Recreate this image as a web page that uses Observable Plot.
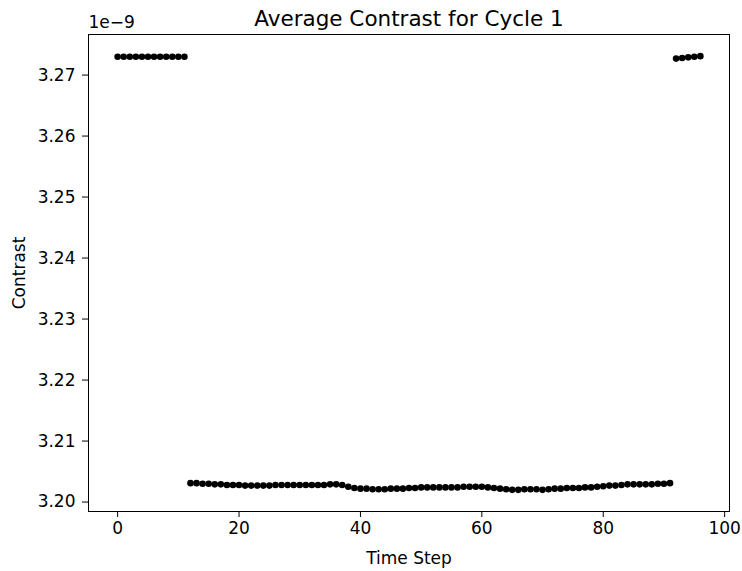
<!DOCTYPE html>
<html>
<head>
<meta charset="utf-8">
<script src="https://cdn.jsdelivr.net/npm/d3@7"></script>
<script src="https://cdn.jsdelivr.net/npm/@observablehq/plot@0.6"></script>
<style>
html,body{margin:0;padding:0;background:#fff;}
</style>
</head>
<body>
<div id="chart"></div>
<script>
const titleText = "Average Contrast for Cycle 1";
const xLabel = "Time Step";
const yLabel = "Contrast";
const exponentLabel = "1e\u22129";

const stepsStart = [0,1,2,3,4,5,6,7,8,9,10,11];
const valuesStart = [3.2730,3.2730,3.2730,3.2730,3.2730,3.2730,3.2730,3.2730,3.2730,3.2730,3.2730,3.2730];

const stepsMid = d3.range(12, 92);
const valuesMid = [
  3.2031,3.2031,3.2030,3.2030,3.2029,3.2029,3.2028,3.2028,3.2028,3.2027,
  3.2027,3.2027,3.2027,3.2027,3.2028,3.2028,3.2028,3.2028,3.2028,3.2028,
  3.2028,3.2028,3.2028,3.2029,3.2029,3.2028,3.2025,3.2023,3.2022,3.2022,
  3.2021,3.2021,3.2021,3.2022,3.2022,3.2022,3.2023,3.2023,3.2024,3.2024,
  3.2024,3.2024,3.2024,3.2024,3.2024,3.2025,3.2025,3.2025,3.2025,3.2024,
  3.2023,3.2022,3.2021,3.2020,3.2020,3.2021,3.2021,3.2021,3.2020,3.2021,
  3.2022,3.2022,3.2023,3.2023,3.2023,3.2024,3.2024,3.2025,3.2026,3.2027,
  3.2027,3.2028,3.2029,3.2029,3.2029,3.2029,3.2029,3.2030,3.2030,3.2031
];

const stepsEnd = [92,93,94,95,96];
const valuesEnd = [3.2727,3.2728,3.2729,3.2730,3.2731];

const xTicks = [0,20,40,60,80,100];
const yTicks = [3.20,3.21,3.22,3.23,3.24,3.25,3.26,3.27];

const steps = [...stepsStart, ...stepsMid, ...stepsEnd];
const values = [...valuesStart, ...valuesMid, ...valuesEnd];
const data = steps.map((s, i) => ({step: s, value: values[i]}));

const chart = Plot.plot({
  width: 742,
  height: 571,
  marginLeft: 88,
  marginRight: 13,
  marginTop: 34,
  marginBottom: 60,
  style: {fontFamily: "DejaVu Sans", fontSize: "17px", background: "#fff", color: "#000"},
  x: {domain: [-4.8, 100.8], ticks: xTicks, tickFormat: d3.format("d"), label: null},
  y: {domain: [3.19845, 3.27665], ticks: yTicks, tickFormat: d3.format(".2f"), label: null},
  marks: [
    Plot.axisX({ticks: xTicks, tickFormat: d3.format("d"), tickSize: 6, tickPadding: 4, label: xLabel, labelAnchor: "center", labelArrow: "none", labelOffset: 52, fontSize: 17}),
    Plot.axisY({ticks: yTicks, tickFormat: d3.format(".2f"), tickSize: 6, tickPadding: 7, label: yLabel, labelAnchor: "center", labelOffset: 76, labelArrow: "none", fontSize: 17}),
    Plot.frame({stroke: "#000", strokeWidth: 1}),
    Plot.dot(data, {x: "step", y: "value", r: 3.3, fill: "#000", stroke: "none"}),
    Plot.text([titleText], {frameAnchor: "top", dy: -24, fontSize: 21.5, fill: "#000"}),
    Plot.text([exponentLabel], {frameAnchor: "top-left", dy: -19, textAnchor: "start", fontSize: 17, fill: "#000"})
  ]
});
document.getElementById("chart").appendChild(chart);
</script>
</body>
</html>
